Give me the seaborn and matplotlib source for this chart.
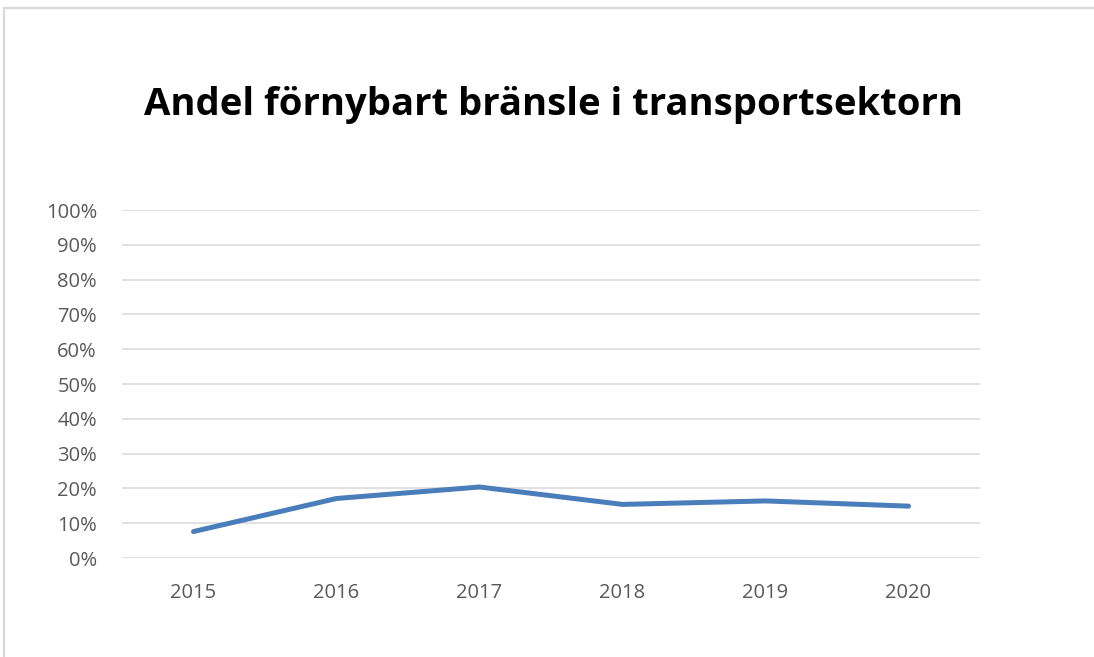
import matplotlib
matplotlib.use("Agg")
import matplotlib.pyplot as plt
import seaborn as sns
import pandas as pd
from matplotlib.ticker import PercentFormatter
from matplotlib.patches import Rectangle

years = ["2015", "2016", "2017", "2018", "2019", "2020"]
share = [0.076, 0.171, 0.204, 0.154, 0.164, 0.149]
yticks = [i / 10 for i in range(11)]
title = "Andel förnybart bränsle i transportsektorn"

sns.set_theme(style="white")
plt.rcParams['font.family'] = ['Open Sans', 'DejaVu Sans']

fig = plt.figure(figsize=(10.94, 6.57), dpi=100)
ax = fig.add_axes([122/1094, 1-558/657, (980-122)/1094, (558-210)/657])

df = pd.DataFrame({"year": years, "share": share})
df["pos"] = range(len(years))
sns.lineplot(data=df, x="pos", y="share", ax=ax, color="#4a7ebb", linewidth=3.6,
             solid_capstyle="round", solid_joinstyle="round", zorder=3)

ax.set_xlim(-0.5, len(years) - 0.5)
ax.set_ylim(0, 1)
ax.set_xticks(range(len(years)))
ax.set_xticklabels(years)
ax.set_yticks(yticks)
ax.yaxis.set_major_formatter(PercentFormatter(1.0, decimals=0))
ax.grid(axis="y", color="#d9d9d9", linewidth=1.1)
ax.grid(axis="x", visible=False)
for s in ax.spines.values():
    s.set_visible(False)
ax.tick_params(axis="both", length=0, labelsize=14.5, labelcolor="#595959")
ax.tick_params(axis="y", pad=18)
ax.tick_params(axis="x", pad=18)
ax.set_xlabel("")
ax.set_ylabel("")

fig.text(553/1094, 1-105/657, title, ha="center", va="center",
         fontsize=27.5, fontweight="bold", color="black")

fig.patches.append(Rectangle((4/1094, -0.1), 1.2, 1 - 8/657 + 0.1,
                             transform=fig.transFigure, fill=False,
                             edgecolor="#d9d9d9", linewidth=1.6))

fig.savefig("out.png", dpi=100, facecolor="white")
